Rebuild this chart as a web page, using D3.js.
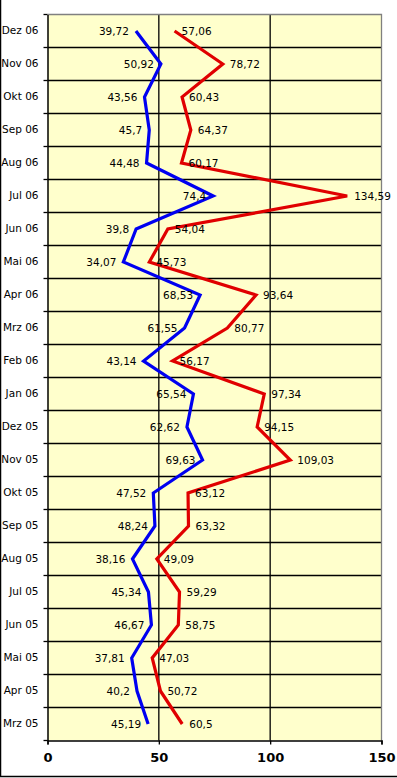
<!DOCTYPE html>
<html><head><meta charset="utf-8">
<script src="https://cdn.jsdelivr.net/npm/d3@7"></script>
<style>html,body{margin:0;padding:0;background:#fff;}svg{display:block;}</style>
</head><body>
<svg id="c" width="397" height="778"></svg>
<script>
const categories = ["Dez 06","Nov 06","Okt 06","Sep 06","Aug 06","Jul 06","Jun 06","Mai 06","Apr 06","Mrz 06","Feb 06","Jan 06","Dez 05","Nov 05","Okt 05","Sep 05","Aug 05","Jul 05","Jun 05","Mai 05","Apr 05","Mrz 05"];
const blueValues = [39.72,50.92,43.56,45.7,44.48,74.4,39.8,34.07,68.53,61.55,43.14,65.54,62.62,69.63,47.52,48.24,38.16,45.34,46.67,37.81,40.2,45.19];
const redValues = [57.06,78.72,60.43,64.37,60.17,134.59,54.04,45.73,93.64,80.77,56.17,97.34,94.15,109.03,63.12,63.32,49.09,59.29,58.75,47.03,50.72,60.5];
const xTicks = [0,50,100,150];

const svg = d3.select("#c");
const L = 47.5, R = 381.5, T = 14.5, B = 740.5;
const x = d3.scaleLinear().domain([0,150]).range([L,R]);
const y = d3.scaleBand().domain(categories).range([T,B]);
const fmt = v => String(v).replace(".", ",");

// outer frame (left and bottom)
svg.append("line").attr("x1",0.5).attr("x2",0.5).attr("y1",0).attr("y2",777).attr("stroke","#000").attr("stroke-width",1.5);
svg.append("line").attr("x1",0).attr("x2",397).attr("y1",776.5).attr("y2",776.5).attr("stroke","#000").attr("stroke-width",1.5);

// plot background
svg.append("rect").attr("x",L).attr("y",T).attr("width",R-L).attr("height",B-T).attr("fill","#ffffcc");

// horizontal grid lines (category boundaries)
const bounds = categories.map(c => y(c)).slice(1);
svg.append("g").selectAll("line").data(bounds).join("line")
  .attr("x1",L).attr("x2",R).attr("y1",d=>d).attr("y2",d=>d)
  .attr("stroke","#000").attr("stroke-width",1.3);
// vertical grid lines
svg.append("g").selectAll("line").data(xTicks.slice(1,-1)).join("line")
  .attr("x1",d=>x(d)).attr("x2",d=>x(d)).attr("y1",T).attr("y2",B)
  .attr("stroke","#000").attr("stroke-width",1.3);

// top & right border grey
svg.append("path").attr("d",`M${L},${T}H${R}V${B}`).attr("fill","none").attr("stroke","#808080").attr("stroke-width",1.3);

// x axis
const xAxis = d3.axisBottom(x).tickValues(xTicks).tickSize(4).tickPadding(8).tickFormat(d3.format("d"));
const gx = svg.append("g").attr("transform",`translate(0,${B})`).call(xAxis);
gx.select(".domain").attr("stroke","#000").attr("stroke-width",1.5);
gx.selectAll(".tick line").attr("stroke","#000").attr("stroke-width",1.3);
gx.selectAll("text").attr("font-family","Verdana, 'DejaVu Sans', sans-serif").attr("font-size",13).attr("font-weight","bold").attr("fill","#000");

// y axis
const yAxis = d3.axisLeft(y).tickSize(0).tickPadding(9);
const gy = svg.append("g").attr("transform",`translate(${L},0)`).call(yAxis);
gy.select(".domain").attr("stroke","#000").attr("stroke-width",1.5);
gy.selectAll("text").attr("font-family","Verdana, 'DejaVu Sans', sans-serif").attr("font-size",10.5).attr("fill","#000");
svg.append("g").selectAll("line").data([T].concat(bounds).concat([B])).join("line")
  .attr("x1",L-4).attr("x2",L).attr("y1",d=>d).attr("y2",d=>d).attr("stroke","#000").attr("stroke-width",1.3);

const cy = c => y(c) + y.bandwidth()/2;
const line = vals => d3.line().x((d,i)=>x(vals[i])).y((d,i)=>cy(categories[i]))(categories);

svg.append("path").attr("d",line(blueValues)).attr("fill","none").attr("stroke","#0000f0").attr("stroke-width",3.2).attr("stroke-linejoin","miter");
svg.append("path").attr("d",line(redValues)).attr("fill","none").attr("stroke","#e00000").attr("stroke-width",3.2).attr("stroke-linejoin","miter");

// labels
const lblFont = "Verdana, 'DejaVu Sans', sans-serif";
svg.append("g").selectAll("text").data(categories).join("text")
  .attr("x",(d,i)=>x(blueValues[i])-7).attr("y",d=>cy(d)).attr("dy","0.35em")
  .attr("text-anchor","end").attr("font-family",lblFont).attr("font-size",10.5).attr("fill","#000")
  .text((d,i)=>fmt(blueValues[i]));
svg.append("g").selectAll("text").data(categories).join("text")
  .attr("x",(d,i)=>x(redValues[i])+7).attr("y",d=>cy(d)).attr("dy","0.35em")
  .attr("text-anchor","start").attr("font-family",lblFont).attr("font-size",10.5).attr("fill","#000")
  .text((d,i)=>fmt(redValues[i]));
</script>
</body></html>
